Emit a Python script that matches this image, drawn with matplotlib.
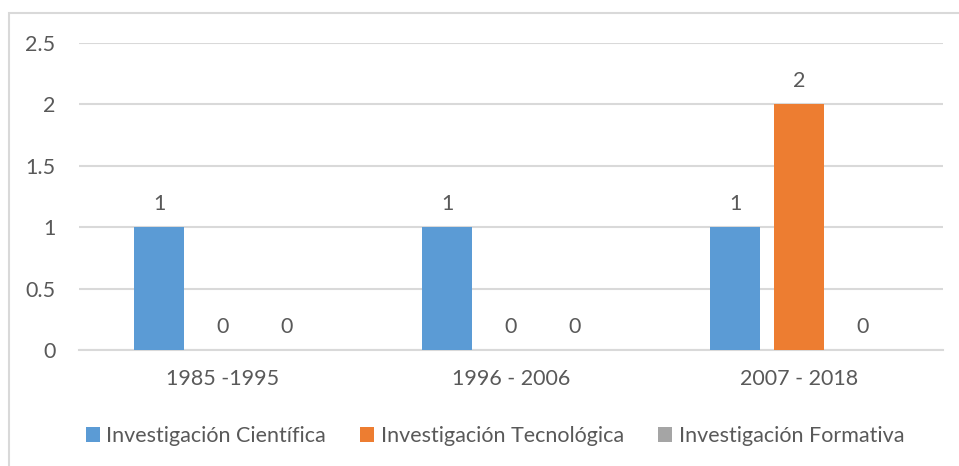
import matplotlib
matplotlib.use("Agg")
import matplotlib.pyplot as plt
from matplotlib.patches import Rectangle
import numpy as np

categories = ["1985 -1995", "1996 - 2006", "2007 - 2018"]
series_names = ["Investigación Científica", "Investigación Tecnológica", "Investigación Formativa"]
cientifica = [1, 1, 1]
tecnologica = [0, 0, 2]
formativa = [0, 0, 0]
yticks = [0, 0.5, 1, 1.5, 2, 2.5]
ytick_labels = ["0", "0.5", "1", "1.5", "2", "2.5"]

colors = ["#5B9BD5", "#ED7D31", "#A5A5A5"]
text_color = "#595959"
grid_color = "#D9D9D9"
fs = 15.5

plt.rcParams['font.family'] = ['Lato', 'DejaVu Sans']

W, H = 959, 466
fig = plt.figure(figsize=(W / 100, H / 100), dpi=100)
# figure border
fig.patches.append(Rectangle((9 / W, -0.1), 1.2, 1 - 13 / H + 0.1, transform=fig.transFigure,
                             fill=False, edgecolor="#D9D9D9", linewidth=1.5))

left, right, top, bottom = 79, 943, 43, 350
ax = fig.add_axes([left / W, 1 - bottom / H, (right - left) / W, (bottom - top) / H])

x = np.arange(len(categories))
width = 0.174
offset = 0.222
all_series = [cientifica, tecnologica, formativa]
for i, (vals, name, c) in enumerate(zip(all_series, series_names, colors)):
    pos = x + (i - 1) * offset
    ax.bar(pos, vals, width=width, color=c, label=name, zorder=3)
    for p, v in zip(pos, vals):
        ax.annotate(f"{v:g}", (p, v), xytext=(0, 12.5), textcoords="offset points",
                    ha="center", va="baseline", fontsize=fs, color=text_color)

ax.set_xlim(-0.5, len(categories) - 0.5)
ax.set_ylim(0, 2.5)
ax.set_yticks(yticks)
ax.set_yticklabels(ytick_labels)
ax.set_xticks(x)
ax.set_xticklabels(categories)
ax.tick_params(axis="both", length=0, labelsize=fs, colors=text_color)
ax.tick_params(axis="y", pad=17)
ax.tick_params(axis="x", pad=14)
ax.yaxis.grid(True, color=grid_color, linewidth=1.5, zorder=0)
for s in ["left", "right", "top"]:
    ax.spines[s].set_visible(False)
ax.spines["bottom"].set_color(grid_color)
ax.spines["bottom"].set_linewidth(1.5)

leg = fig.legend(loc="center", bbox_to_anchor=(495 / W, 1 - 436 / H), ncol=3, frameon=False,
                 fontsize=fs, handlelength=0.65, handleheight=0.65, handletextpad=0.3,
                 columnspacing=1.6, labelcolor=text_color)

fig.savefig("out.png", dpi=100)
